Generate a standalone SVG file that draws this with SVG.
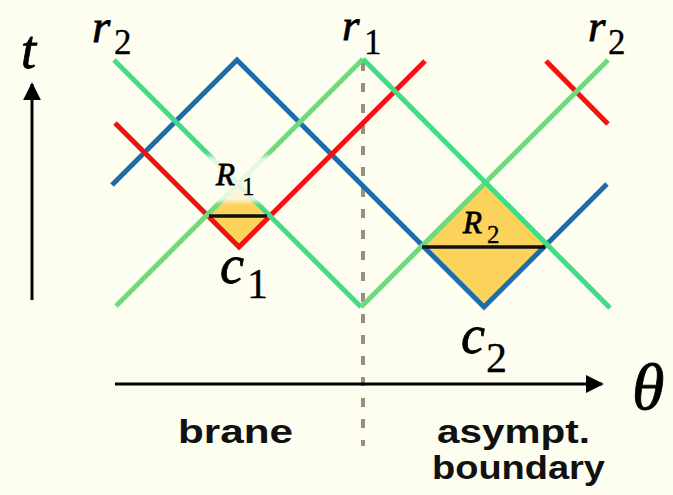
<svg xmlns="http://www.w3.org/2000/svg" width="673" height="495" viewBox="0 0 673 495">
<defs>
<style>
.ln{fill:none;stroke-width:5;stroke-linecap:butt;stroke-linejoin:miter}
.gd{stroke:#40dc86}
.gu{stroke:#72d87e}
.bl{stroke:#1c6cae}
.rd{stroke:#f21212}
.fill{fill:#fbd35a}
.cut{stroke:#111;stroke-width:3.5;fill:none}
.mi{font-family:"Liberation Serif",serif;font-style:italic;fill:#000;stroke:#000;stroke-width:0.8}
.mu{font-family:"Liberation Serif",serif;fill:#000;stroke:#000;stroke-width:0.3}
.sans{font-family:"Liberation Sans",Arial,sans-serif;font-weight:bold;fill:#111}
.ax{stroke:#000;stroke-width:3;fill:none}
</style>
<marker id="ah" viewBox="0 0 10 10" refX="9" refY="5" markerWidth="6" markerHeight="6" markerUnits="strokeWidth" orient="auto">
<path d="M0,0 L10,5 L0,10 z" fill="#000"/>
</marker>
<filter id="soft" x="-20%" y="-20%" width="140%" height="140%">
<feGaussianBlur stdDeviation="2"/>
</filter>
</defs>
<rect width="673" height="495" fill="#fdfdf0"/>

<g id="region-fills">
<polygon class="fill" points="238,184 207,215 239,247 270,216"/>
<polygon class="fill" points="485,183 422,246 484,308 546,246"/>
</g>

<g id="connectors">
<line id="brane-divider" x1="363" y1="62" x2="363" y2="446" stroke="#9b8f80" stroke-width="4" stroke-dasharray="9 12"/>
<polyline id="blue-ray" class="ln bl" points="112,185 237,60 484,307 607,184"/>
<polyline id="red-ray" class="ln rd" points="115,123 239,247 425,61"/>
<line id="red-ray-2" class="ln rd" x1="546" y1="61" x2="608" y2="124"/>
<line class="ln gd" x1="114" y1="60" x2="361" y2="307"/>
<line class="ln gu" x1="361" y1="307" x2="608" y2="60"/>
<line class="ln gu" x1="116" y1="306" x2="363" y2="59"/>
<line class="ln gd" x1="363" y1="59" x2="610" y2="308"/>
</g>

<rect id="R1-halo" x="200" y="156" width="76" height="46" fill="#fdfdf0" opacity="0.85" filter="url(#soft)"/>

<g id="R1">
<line class="cut" x1="209" y1="216" x2="267" y2="216"/>
<text class="mi" x="216" y="185" font-size="31">R</text>
<text class="mu" x="242" y="195" font-size="25">1</text>
</g>
<g id="R2">
<line class="cut" x1="422" y1="247" x2="545" y2="247"/>
<text class="mi" x="463" y="233" font-size="31">R</text>
<text class="mu" x="487" y="243" font-size="25">2</text>
</g>
<g id="c1">
<text class="mi" x="220" y="283" font-size="54">c</text>
<text class="mu" x="247" y="298" font-size="42">1</text>
</g>
<g id="c2">
<text class="mi" x="461" y="353" font-size="54">c</text>
<text class="mu" x="486" y="372" font-size="42">2</text>
</g>
<g id="r2-left">
<text class="mi" x="92" y="42" font-size="47">r</text>
<text class="mu" x="114" y="54" font-size="35">2</text>
</g>
<g id="r1">
<text class="mi" x="342" y="40" font-size="45">r</text>
<text class="mu" x="364" y="54" font-size="35">1</text>
</g>
<g id="r2-right">
<text class="mi" x="588" y="41" font-size="45">r</text>
<text class="mu" x="608" y="54" font-size="35">2</text>
</g>

<g id="t-axis">
<line class="ax" x1="32" y1="300" x2="32" y2="84" marker-end="url(#ah)"/>
<text class="mi" x="21" y="68" font-size="54">t</text>
</g>
<g id="theta-axis">
<line class="ax" x1="115" y1="384" x2="602" y2="384" marker-end="url(#ah)"/>
<text class="mi" x="632" y="409" font-size="66">θ</text>
</g>

<g id="labels">
<text class="sans" x="178" y="443" font-size="34" textLength="115" lengthAdjust="spacingAndGlyphs">brane</text>
<text class="sans" x="437" y="443" font-size="34" textLength="153" lengthAdjust="spacingAndGlyphs">asympt.</text>
<text class="sans" x="432" y="479" font-size="34" textLength="173" lengthAdjust="spacingAndGlyphs">boundary</text>
</g>
</svg>
